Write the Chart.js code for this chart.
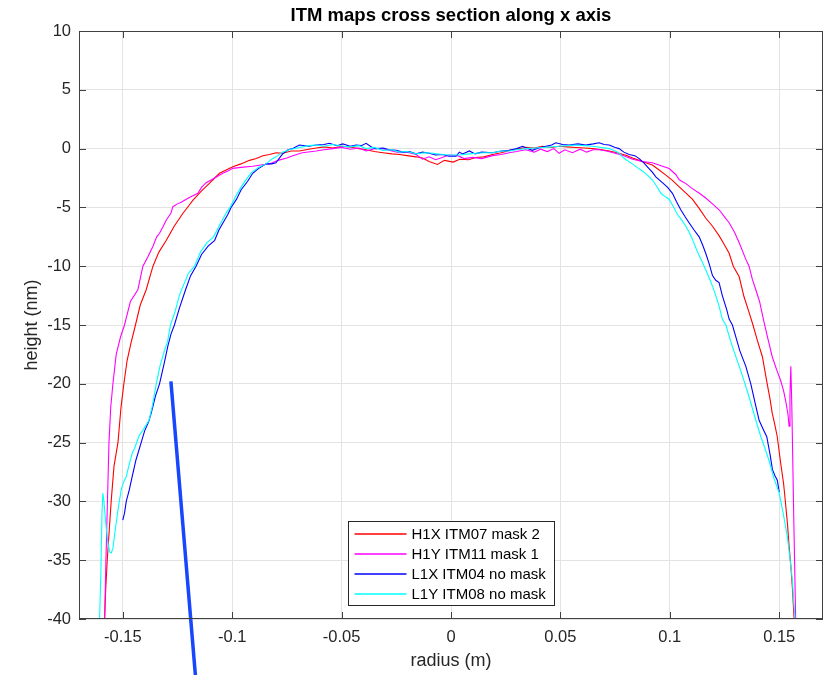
<!DOCTYPE html>
<html>
<head>
<meta charset="utf-8">
<title>ITM maps cross section</title>
<script src="https://cdn.jsdelivr.net/npm/chart.js@4.4.0/dist/chart.umd.min.js"></script>
<style>
  html, body { margin: 0; padding: 0; background: #fff; }
  canvas { display: block; }
</style>
</head>
<body>
<canvas id="crossChart" width="829" height="675"></canvas>
<script>
const FONT = "'Liberation Sans', Arial, Helvetica, sans-serif";

const chartTitle = 'ITM maps cross section along x axis';
const xTicks = [-0.15, -0.1, -0.05, 0, 0.05, 0.1, 0.15];
const xTickLabels = ['-0.15', '-0.1', '-0.05', '0', '0.05', '0.1', '0.15'];
const yTicks = [10, 5, 0, -5, -10, -15, -20, -25, -30, -35, -40];
const yTickLabels = ['10', '5', '0', '-5', '-10', '-15', '-20', '-25', '-30', '-35', '-40'];

const seriesNames = ['H1X ITM07 mask 2', 'H1Y ITM11 mask 1', 'L1X ITM04 no mask', 'L1Y ITM08 no mask'];
const seriesColors = ['#ff0000', '#ff00ff', '#0000ff', '#00ffff'];

// H1X ITM07 mask 2
const h1xR = [-0.1583, -0.1578, -0.1571, -0.1562, -0.1553, -0.1540, -0.1522, -0.1508, -0.1495, -0.1480,
  -0.1462, -0.1442, -0.1420, -0.1393, -0.1362, -0.1335, -0.1301, -0.1265, -0.1225, -0.1200,
  -0.1180, -0.1140, -0.1104, -0.1080, -0.1058, -0.1030, -0.0997, -0.0960, -0.0921, -0.0890,
  -0.0860, -0.0830, -0.0799, -0.0769, -0.0730, -0.0693, -0.0650, -0.0616, -0.0580, -0.0540,
  -0.0495, -0.0450, -0.0420, -0.0388, -0.0350, -0.0312, -0.0270, -0.0236, -0.0200, -0.0160,
  -0.0130, -0.0100, -0.0062, -0.0030, 0.0010, 0.0040, 0.0080, 0.0114, 0.0150, 0.0190,
  0.0230, 0.0266, 0.0300, 0.0342, 0.0380, 0.0418, 0.0460, 0.0494, 0.0530, 0.0571,
  0.0610, 0.0647, 0.0690, 0.0723, 0.0760, 0.0799, 0.0830, 0.0860, 0.0890, 0.0920,
  0.0950, 0.0982, 0.1012, 0.1043, 0.1075, 0.1103, 0.1135, 0.1164, 0.1195, 0.1225,
  0.1250, 0.1271, 0.1290, 0.1317, 0.1339, 0.1360, 0.1380, 0.1400, 0.1423, 0.1445,
  0.1458, 0.1468, 0.1480, 0.1491, 0.1500, 0.1507, 0.1520, 0.1529, 0.1538, 0.1545,
  0.1553, 0.1560, 0.1568];
const h1xH = [-40, -37.5, -35, -32.5, -30, -27, -25, -22, -20, -18,
  -16.5, -15, -13.3, -12, -10, -8.8, -7.8, -6.6, -5.5, -4.9,
  -4.4, -3.6, -2.95, -2.5, -2.1, -1.85, -1.55, -1.3, -1.0, -0.85,
  -0.6, -0.5, -0.35, -0.4, -0.2, -0.2, -0.05, 0.05, 0.15, 0.05,
  0.2, 0.1, 0.0, -0.1, -0.25, -0.35, -0.45, -0.5, -0.6, -0.7,
  -0.8, -1.1, -1.35, -1.0, -1.15, -0.9, -0.95, -0.75, -0.7, -0.5,
  -0.35, -0.15, -0.05, 0.1, 0.05, 0.2, 0.1, 0.2, 0.15, 0.1,
  0.05, 0.0, -0.1, -0.2, -0.35, -0.57, -0.8, -1.0, -1.2, -1.4,
  -1.8, -2.25, -2.7, -3.25, -3.8, -4.3, -5.1, -5.9, -6.6, -7.4,
  -8.2, -8.9, -10.0, -10.9, -12.6, -13.8, -15, -16.3, -17.7, -20,
  -21.3, -22.5, -23.5, -24.5, -25.8, -26.8, -28.5, -30.2, -32, -33.8,
  -35.5, -37.3, -40];

// H1Y ITM11 mask 1
const h1yR = [-0.1583, -0.1577, -0.1570, -0.1563, -0.1555, -0.1545, -0.1530, -0.1510, -0.1492, -0.1465,
  -0.1431, -0.1408, -0.1385, -0.1362, -0.1345, -0.1332, -0.1315, -0.1301, -0.1280, -0.1271,
  -0.1250, -0.1233, -0.1200, -0.1157, -0.1140, -0.1119, -0.1080, -0.1043, -0.1020, -0.0997,
  -0.0960, -0.0906, -0.0870, -0.0830, -0.0790, -0.0750, -0.0723, -0.0680, -0.0616, -0.0580,
  -0.0540, -0.0500, -0.0460, -0.0420, -0.0388, -0.0350, -0.0312, -0.0270, -0.0236, -0.0200,
  -0.0160, -0.0130, -0.0100, -0.0070, -0.0040, -0.0010, 0.0030, 0.0060, 0.0100, 0.0140,
  0.0190, 0.0230, 0.0266, 0.0300, 0.0342, 0.0380, 0.0410, 0.0440, 0.0470, 0.0494,
  0.0520, 0.0555, 0.0590, 0.0620, 0.0650, 0.0677, 0.0710, 0.0750, 0.0790, 0.0830,
  0.0875, 0.0920, 0.0960, 0.0997, 0.1027, 0.1043, 0.1075, 0.1103, 0.1135, 0.1164,
  0.1195, 0.1225, 0.1250, 0.1271, 0.1295, 0.1317, 0.1347, 0.1362, 0.1377, 0.1393,
  0.1410, 0.1431, 0.1450, 0.1468, 0.1488, 0.1506, 0.1520, 0.1529, 0.1540, 0.1545,
  0.1549, 0.1553, 0.1557, 0.1560, 0.1565, 0.1570, 0.1575];
const h1yH = [-40, -35, -30, -25, -22, -20, -17.5, -16, -15, -13,
  -12, -10, -9.2, -8.3, -7.5, -7.2, -6.6, -6.07, -5.5, -4.94,
  -4.7, -4.56, -4.2, -3.8, -3.3, -2.9, -2.5, -2.1, -1.9, -1.68,
  -1.6, -1.5, -1.4, -1.3, -1.0, -0.8, -0.6, -0.35, -0.2, -0.1,
  0.0, 0.1, -0.05, 0.05, -0.2, 0.0, 0.0, -0.2, -0.35, -0.3,
  -0.5, -0.9, -0.7, -0.95, -0.75, -0.55, -0.6, -0.85, -0.75, -0.85,
  -0.6, -0.5, -0.35, -0.25, -0.1, -0.3, -0.05, -0.25, 0.0, -0.4,
  -0.1, -0.35, -0.05, -0.3, -0.1, -0.1, -0.2, -0.4, -0.6, -0.9,
  -1.1, -1.2, -1.45, -1.7, -2.2, -2.65, -3.0, -3.4, -3.8, -4.2,
  -4.7, -5.2, -5.8, -6.3, -7.1, -8.0, -9.4, -10, -11.1, -12.0,
  -13.0, -14.8, -16.3, -17.7, -18.8, -19.7, -20.6, -21.4, -22.6, -23.6,
  -21, -18.5, -21.5, -24.5, -30, -35, -40];

// L1X ITM04 no mask
const l1xR = [-0.1500, -0.1492, -0.1484, -0.1470, -0.1457, -0.1440, -0.1416, -0.1400, -0.1381, -0.1370,
  -0.1350, -0.1332, -0.1310, -0.1294, -0.1280, -0.1264, -0.1240, -0.1213, -0.1190, -0.1165,
  -0.1140, -0.1110, -0.1080, -0.1060, -0.1043, -0.1020, -0.1005, -0.0980, -0.0959, -0.0930,
  -0.0906, -0.0880, -0.0845, -0.0820, -0.0800, -0.0780, -0.0769, -0.0745, -0.0723, -0.0693,
  -0.0650, -0.0616, -0.0580, -0.0556, -0.0520, -0.0495, -0.0460, -0.0434, -0.0410, -0.0388,
  -0.0360, -0.0343, -0.0310, -0.0282, -0.0250, -0.0220, -0.0190, -0.0160, -0.0130, -0.0100,
  -0.0070, -0.0038, -0.0010, 0.0023, 0.0038, 0.0053, 0.0084, 0.0110, 0.0140, 0.0190,
  0.0230, 0.0266, 0.0300, 0.0327, 0.0350, 0.0372, 0.0400, 0.0434, 0.0460, 0.0479,
  0.0510, 0.0540, 0.0580, 0.0616, 0.0650, 0.0677, 0.0700, 0.0723, 0.0750, 0.0768,
  0.0790, 0.0814, 0.0840, 0.0860, 0.0880, 0.0905, 0.0920, 0.0936, 0.0966, 0.0990,
  0.1012, 0.1030, 0.1050, 0.1070, 0.1088, 0.1110, 0.1134, 0.1150, 0.1164, 0.1180,
  0.1195, 0.1210, 0.1225, 0.1240, 0.1260, 0.1271, 0.1286, 0.1300, 0.1320, 0.1347,
  0.1370, 0.1393, 0.1408, 0.1425, 0.1443, 0.1458, 0.1469, 0.1480, 0.1491, 0.1500];
const l1xH = [-31.6, -31.0, -30.0, -29.0, -27.9, -26.5, -25.0, -24.0, -23.2, -22.5,
  -21.0, -20.0, -18.2, -16.8, -15.8, -15.0, -13.5, -12.0, -10.8, -10.0,
  -9.0, -8.3, -7.8, -6.9, -6.35, -5.6, -5.0, -4.3, -3.5, -2.8,
  -2.1, -1.7, -1.3, -1.3, -1.2, -0.7, -0.45, -0.1, 0.0, 0.3,
  0.2, 0.3, 0.35, 0.45, 0.25, 0.4, 0.2, 0.3, 0.25, 0.45,
  0.1, 0.0, 0.05, -0.1, -0.15, -0.3, -0.25, -0.45, -0.3, -0.4,
  -0.55, -0.5, -0.65, -0.65, -0.3, -0.45, -0.2, -0.45, -0.3, -0.35,
  -0.2, -0.15, 0.0, 0.2, 0.0, -0.15, 0.05, 0.2, 0.3, 0.5,
  0.35, 0.3, 0.4, 0.3, 0.4, 0.5, 0.35, 0.3, 0.1, 0.0,
  -0.3, -0.5, -0.6, -0.85, -1.2, -1.7, -2.0, -2.4, -2.9, -3.3,
  -3.8, -4.5, -5.2, -5.8, -6.3, -6.9, -7.5, -8.2, -8.9, -9.8,
  -10.8, -11.2, -11.4, -12.5, -13.7, -14.5, -15.0, -15.9, -17.2, -18.5,
  -20.0, -21.9, -23.1, -23.8, -24.5, -26.0, -27.3, -27.8, -28.2, -29.2];

// L1Y ITM08 no mask
const l1yR = [-0.1606, -0.1600, -0.1595, -0.1591, -0.1586, -0.1578, -0.1568, -0.1560, -0.1553, -0.1545,
  -0.1535, -0.1520, -0.1507, -0.1495, -0.1484, -0.1470, -0.1455, -0.1446, -0.1425, -0.1410,
  -0.1390, -0.1380, -0.1365, -0.1347, -0.1330, -0.1310, -0.1295, -0.1282, -0.1260, -0.1240,
  -0.1220, -0.1200, -0.1172, -0.1145, -0.1115, -0.1085, -0.1060, -0.1043, -0.1025, -0.1010,
  -0.0985, -0.0960, -0.0935, -0.0910, -0.0880, -0.0845, -0.0820, -0.0800, -0.0769, -0.0740,
  -0.0693, -0.0650, -0.0616, -0.0580, -0.0540, -0.0495, -0.0460, -0.0420, -0.0388, -0.0350,
  -0.0312, -0.0270, -0.0236, -0.0200, -0.0160, -0.0120, -0.0080, -0.0040, -0.0010, 0.0038,
  0.0084, 0.0114, 0.0150, 0.0190, 0.0230, 0.0266, 0.0300, 0.0342, 0.0380, 0.0418,
  0.0460, 0.0494, 0.0530, 0.0571, 0.0610, 0.0647, 0.0690, 0.0723, 0.0750, 0.0769,
  0.0784, 0.0800, 0.0829, 0.0850, 0.0875, 0.0900, 0.0920, 0.0940, 0.0959, 0.0980,
  0.0997, 0.1015, 0.1035, 0.1055, 0.1073, 0.1088, 0.1103, 0.1120, 0.1134, 0.1150,
  0.1164, 0.1180, 0.1195, 0.1210, 0.1225, 0.1240, 0.1256, 0.1285, 0.1317, 0.1340,
  0.1362, 0.1393, 0.1416, 0.1435, 0.1453, 0.1475, 0.1500, 0.1520, 0.1537, 0.1550,
  0.1560, 0.1566, 0.1572];
const l1yH = [-40, -36, -31, -29.3, -30, -31.8, -33.5, -34.3, -34.4, -34.0,
  -32.5, -30.5, -29.0, -28.3, -27.9, -26.8, -25.8, -25.5, -24.4, -24.0,
  -23.4, -23.1, -21.9, -20.0, -18.5, -17.2, -16.4, -15.0, -13.8, -12.4,
  -11.5, -10.6, -10.0, -8.8, -8.0, -7.5, -6.6, -6.0, -5.4, -5.0,
  -4.1, -3.3, -2.6, -2.0, -1.6, -1.3, -0.9, -0.7, -0.3, -0.1,
  0.1, 0.25, 0.3, 0.2, 0.35, 0.2, 0.15, 0.25, 0.0, 0.1,
  -0.15, -0.1, -0.3, -0.25, -0.45, -0.35, -0.4, -0.5, -0.55, -0.55,
  -0.45, -0.4, -0.35, -0.35, -0.2, -0.2, -0.1, 0.0, 0.05, 0.1,
  0.15, 0.2, 0.25, 0.3, 0.25, 0.2, 0.1, 0.0, -0.2, -0.4,
  -0.7, -0.95, -1.3, -1.6, -1.9, -2.3, -2.65, -3.2, -3.8, -4.1,
  -4.3, -4.9, -5.6, -6.1, -6.6, -7.1, -7.7, -8.5, -9.1, -9.7,
  -10.3, -11.0, -11.7, -12.5, -13.4, -14.5, -15.0, -16.8, -18.5, -19.8,
  -21.1, -23.1, -24.5, -25.5, -26.5, -28.0, -29.3, -31.2, -33.0, -35.0,
  -36.7, -38.5, -40];

// hand-drawn pointer stroke, runs past the bottom axis
const markR = [-0.128, -0.1168];
const markH = [-19.8, -44.8];

const seriesR = [h1xR, h1yR, l1xR, l1yR];
const seriesH = [h1xH, h1yH, l1xH, l1yH];

function toPoints(xs, ys) {
  return xs.map((x, i) => ({ x: x, y: ys[i] }));
}

const datasets = seriesNames.map((name, i) => ({
  label: name,
  data: toPoints(seriesR[i], seriesH[i]),
  borderColor: seriesColors[i],
  borderWidth: 1.1,
  pointRadius: 0,
  tension: 0,
  order: seriesNames.length - i
}));

datasets.push({
  label: 'pointer',
  data: toPoints(markR, markH),
  borderColor: '#1746ff',
  borderWidth: 3.5,
  pointRadius: 0,
  borderCapStyle: 'butt',
  clip: false,
  order: 0
});

// title centred over the plot area rather than the whole canvas
const plotTitle = {
  id: 'plotTitle',
  afterDraw(chart) {
    const { ctx, chartArea: a } = chart;
    ctx.save();
    ctx.font = 'bold 18.5px ' + FONT;
    ctx.fillStyle = '#000';
    ctx.textAlign = 'center';
    ctx.textBaseline = 'middle';
    ctx.fillText(chartTitle, (a.left + a.right) / 2, a.top - 15);
    ctx.restore();
  }
};

// box around the plot plus inward tick marks on all four sides
const axesBox = {
  id: 'axesBox',
  afterDatasetsDraw(chart) {
    const { ctx, chartArea: a, scales } = chart;
    const tick = 7;
    ctx.save();
    ctx.strokeStyle = '#404040';
    ctx.lineWidth = 1;
    ctx.beginPath();
    xTicks.forEach(v => {
      const px = Math.round(scales.x.getPixelForValue(v)) + 0.5;
      ctx.moveTo(px, a.bottom); ctx.lineTo(px, a.bottom - tick);
      ctx.moveTo(px, a.top); ctx.lineTo(px, a.top + tick);
    });
    yTicks.forEach(v => {
      const py = Math.round(scales.y.getPixelForValue(v)) + 0.5;
      ctx.moveTo(a.left, py); ctx.lineTo(a.left + tick, py);
      ctx.moveTo(a.right, py); ctx.lineTo(a.right - tick, py);
    });
    ctx.stroke();
    ctx.strokeRect(Math.round(a.left) + 0.5, Math.round(a.top) + 0.5,
      Math.round(a.width) - 1, Math.round(a.height) - 1);
    ctx.restore();
  }
};

// legend box inside the axes, bottom centre
const insetLegend = {
  id: 'insetLegend',
  afterDraw(chart) {
    const { ctx, chartArea: a } = chart;
    ctx.save();
    ctx.font = '15px ' + FONT;
    const textW = Math.max(...seriesNames.map(n => ctx.measureText(n).width));
    const rowH = 20;
    const w = Math.round(63 + textW + 9);
    const h = rowH * seriesNames.length + 4;
    const left = Math.round((a.left + a.right) / 2 - w / 2) + 0.5;
    const top = Math.round(a.bottom - 14 - h) + 0.5;
    ctx.fillStyle = '#fff';
    ctx.fillRect(left, top, w, h);
    ctx.strokeStyle = '#262626';
    ctx.lineWidth = 1;
    ctx.strokeRect(left, top, w, h);
    ctx.textBaseline = 'middle';
    ctx.textAlign = 'left';
    seriesNames.forEach((name, i) => {
      const cy = Math.round(top + 12 + i * rowH);
      ctx.strokeStyle = seriesColors[i];
      ctx.lineWidth = 1.6;
      ctx.beginPath();
      ctx.moveTo(left + 6, cy);
      ctx.lineTo(left + 58, cy);
      ctx.stroke();
      ctx.fillStyle = '#000';
      ctx.fillText(name, left + 63, cy + 1);
    });
    ctx.restore();
  }
};

new Chart(document.getElementById('crossChart'), {
  type: 'line',
  data: { datasets: datasets },
  options: {
    responsive: false,
    animation: false,
    events: [],
    layout: { padding: { left: 0, right: 6, top: 31, bottom: 0 } },
    plugins: {
      legend: { display: false },
      tooltip: { enabled: false },
      title: { display: false }
    },
    scales: {
      x: {
        type: 'linear',
        min: -0.17,
        max: 0.17,
        afterBuildTicks: s => { s.ticks = xTicks.map(v => ({ value: v })); },
        afterFit: s => { s.height = 56; },
        ticks: {
          autoSkip: false,
          maxRotation: 0,
          padding: 9,
          color: '#262626',
          font: { family: FONT, size: 16.5 },
          callback: v => xTickLabels[xTicks.indexOf(v)]
        },
        grid: { color: '#e3e3e3', drawTicks: false },
        border: { display: false },
        title: {
          display: true,
          text: 'radius (m)',
          color: '#262626',
          font: { family: FONT, size: 18 },
          padding: { top: 0, bottom: 3 }
        }
      },
      y: {
        type: 'linear',
        min: -40,
        max: 10,
        afterBuildTicks: s => { s.ticks = yTicks.map(v => ({ value: v })); },
        afterFit: s => { s.width = 79; },
        ticks: {
          autoSkip: false,
          padding: 8,
          color: '#262626',
          font: { family: FONT, size: 16.5 },
          callback: v => yTickLabels[yTicks.indexOf(v)]
        },
        grid: { color: '#e3e3e3', drawTicks: false },
        border: { display: false },
        title: {
          display: true,
          text: 'height (nm)',
          color: '#262626',
          font: { family: FONT, size: 18 },
          padding: { top: 21, bottom: 0 }
        }
      }
    }
  },
  plugins: [plotTitle, axesBox, insetLegend]
});
</script>
</body>
</html>
